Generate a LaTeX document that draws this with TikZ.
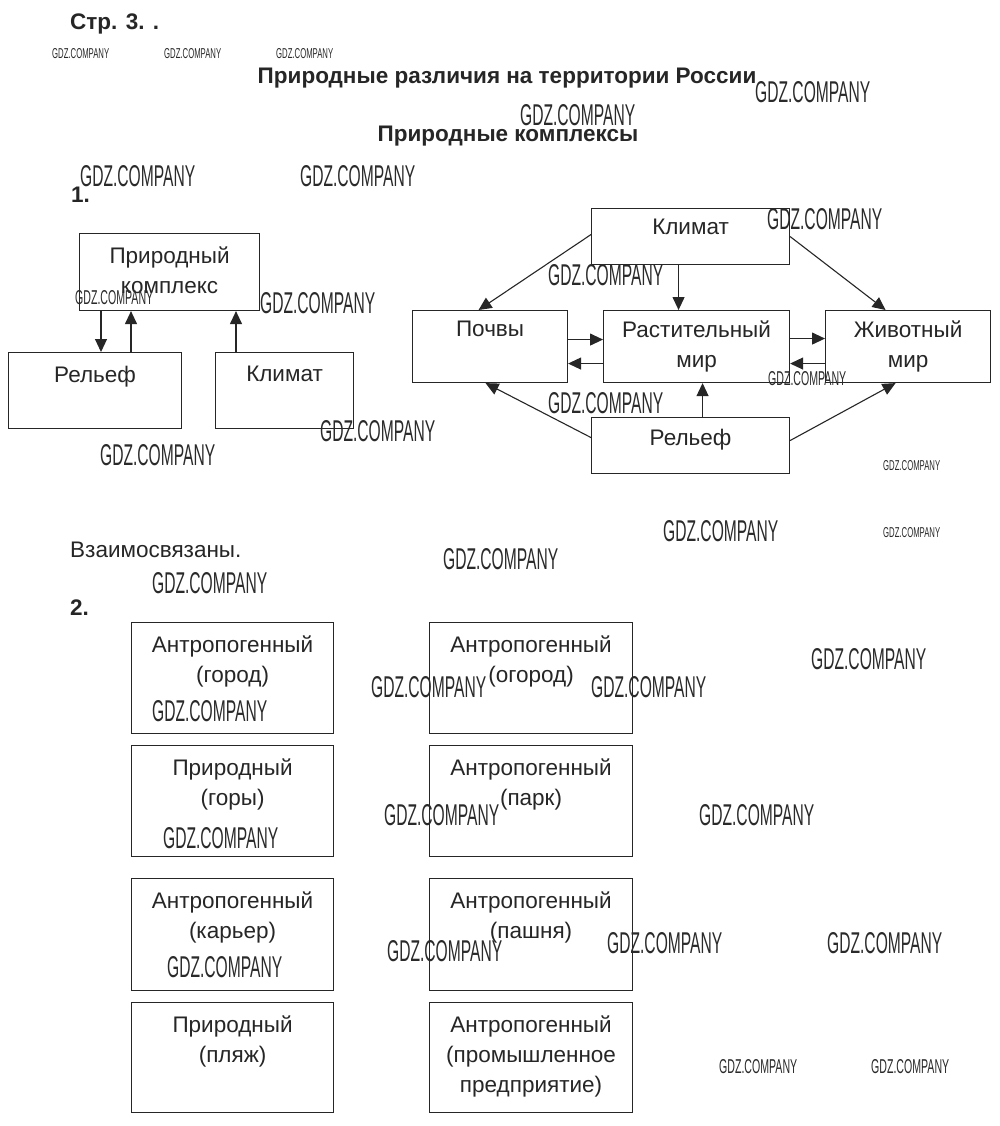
\documentclass[tikz,border=0pt]{standalone}
\usepackage{fontspec}
\setmainfont{Liberation Sans}
\usepackage{graphicx}
\usetikzlibrary{arrows.meta,calc}
\definecolor{ink}{HTML}{262626}
\definecolor{wmc}{HTML}{2A2A2A}
\tikzset{
  bx/.style={draw=ink, line width=1.1pt, inner sep=0pt, anchor=north west},
  bt/.style={text=ink, inner sep=0pt, anchor=north, align=center, font=\fontsize{22.5}{30}\selectfont},
  arr/.style={draw=ink, line width=1.1pt, -{Triangle[length=13pt,width=12pt]}},
  head/.style={text=ink, inner sep=0pt, anchor=base, font=\bfseries\fontsize{22.5}{26}\selectfont},
  plain/.style={text=ink, inner sep=0pt, anchor=base west, font=\fontsize{22.5}{26}\selectfont},
  wm/.style={text=wmc, inner sep=0pt, anchor=west}
}
% name, x, y, width, height, text offset, text
\newcommand{\mkbox}[7]{%
  \node[bx, minimum width=#4pt, minimum height=#5pt] (#1) at (#2,#3) {};
  \node[bt] (#1t) at ([yshift=-#6pt]#1.north) {#7};}
\newcommand{\gdzB}{\resizebox{115pt}{21pt}{GDZ.COMPANY}}
\newcommand{\gdzM}{\resizebox{78pt}{14pt}{GDZ.COMPANY}}
\newcommand{\gdzS}{\resizebox{57pt}{10pt}{GDZ.COMPANY}}
\begin{document}
\begin{tikzpicture}[x=1pt,y=-1pt]
\useasboundingbox (0,0) rectangle (1000,1126);
\fill[white] (0,0) rectangle (1000,1126);

% headings
\node[head, anchor=base west] (page) at (70,30) {Стр. 3. .};
\node[head] (title) at (507,84) {Природные различия на территории России};
\node[head] (sub) at (508,142) {Природные комплексы};
\node[head, anchor=base west] (n1) at (71,202) {1.};
\node[plain] (concl) at (70,557) {Взаимосвязаны.};
\node[head, anchor=base west] (n2) at (70,615) {2.};

% left diagram
\mkbox{pk}{79}{233}{180}{77}{14}{Природный\\комплекс}
\mkbox{rla}{8}{352}{173}{76}{14}{Рельеф}
\mkbox{kla}{215}{352}{138}{76}{14}{Климат}
\draw[arr] ([xshift=22pt]pk.south west) -- ([xshift=22pt]pk.south west |- rla.north);
\draw[arr] ([xshift=52pt]pk.south west |- rla.north) -- ([xshift=52pt]pk.south west);
\draw[arr] ([xshift=157pt]pk.south west |- kla.north) -- ([xshift=157pt]pk.south west);

% right diagram
\mkbox{kl}{591}{208}{198}{56}{11}{Климат}
\mkbox{po}{412}{310}{155}{72}{11}{Почвы}
\mkbox{ra}{603}{310}{186}{72}{11}{Растительный\\мир}
\mkbox{zh}{825}{310}{165}{72}{11}{Животный\\мир}
\mkbox{rl}{591}{417}{198}{56}{12}{Рельеф}
\draw[arr] ([yshift=2pt]kl.west) -- ([xshift=-11.5pt]po.north);
\draw[arr] ([xshift=-12pt]kl.south) -- ([xshift=-12pt]kl.south |- ra.north);
\draw[arr] (kl.east) -- ([xshift=-22.5pt]zh.north);
\draw[arr] ([yshift=7pt]po.east) -- ([yshift=7pt]po.east -| ra.west);
\draw[arr] ([yshift=-17pt]ra.west) -- ([yshift=-17pt]ra.west -| po.east);
\draw[arr] ([yshift=8pt]ra.east) -- ([yshift=8pt]ra.east -| zh.west);
\draw[arr] ([yshift=-17pt]zh.west) -- ([yshift=-17pt]zh.west -| ra.east);
\draw[arr] ([yshift=8pt]rl.west) -- ([xshift=-4.5pt]po.south);
\draw[arr] ([xshift=12pt]rl.north) -- ([xshift=12pt]rl.north |- ra.south);
\draw[arr] ([yshift=5pt]rl.east) -- ([xshift=-12.5pt]zh.south);

% task 2 boxes
\mkbox{b1}{131}{622}{202}{111}{14}{Антропогенный\\(город)}
\mkbox{b2}{429}{622}{203}{111}{14}{Антропогенный\\(огород)}
\mkbox{b3}{131}{745}{202}{111}{14}{Природный\\(горы)}
\mkbox{b4}{429}{745}{203}{111}{14}{Антропогенный\\(парк)}
\mkbox{b5}{131}{878}{202}{112}{14}{Антропогенный\\(карьер)}
\mkbox{b6}{429}{878}{203}{112}{14}{Антропогенный\\(пашня)}
\mkbox{b7}{131}{1002}{202}{110}{14}{Природный\\(пляж)}
\mkbox{b8}{429}{1002}{203}{110}{14}{Антропогенный\\(промышленное\\предприятие)}

% watermarks
\node[wm] (w1) at (52,54) {\gdzS};
\node[wm] (w2) at (164,54) {\gdzS};
\node[wm] (w3) at (276,54) {\gdzS};
\node[wm] (w4) at (755,92) {\gdzB};
\node[wm] (w5) at (520,115) {\gdzB};
\node[wm] (w6) at (80,176) {\gdzB};
\node[wm] (w7) at (300,176) {\gdzB};
\node[wm] (w8) at (767,219) {\gdzB};
\node[wm] (w9) at (548,275) {\gdzB};
\node[wm] (w10) at (260,303) {\gdzB};
\node[wm] (w11) at (75,298) {\gdzM};
\node[wm] (w12) at (320,431) {\gdzB};
\node[wm] (w13) at (100,455) {\gdzB};
\node[wm] (w14) at (548,403) {\gdzB};
\node[wm] (w15) at (768,379) {\gdzM};
\node[wm] (w16) at (883,466) {\gdzS};
\node[wm] (w17) at (663,531) {\gdzB};
\node[wm] (w18) at (883,533) {\gdzS};
\node[wm] (w19) at (443,559) {\gdzB};
\node[wm] (w20) at (152,583) {\gdzB};
\node[wm] (w21) at (811,659) {\gdzB};
\node[wm] (w22) at (371,687) {\gdzB};
\node[wm] (w23) at (591,687) {\gdzB};
\node[wm] (w24) at (152,711) {\gdzB};
\node[wm] (w25) at (384,815) {\gdzB};
\node[wm] (w26) at (699,815) {\gdzB};
\node[wm] (w27) at (163,838) {\gdzB};
\node[wm] (w28) at (607,943) {\gdzB};
\node[wm] (w29) at (827,943) {\gdzB};
\node[wm] (w30) at (387,951) {\gdzB};
\node[wm] (w31) at (167,967) {\gdzB};
\node[wm] (w32) at (719,1067) {\gdzM};
\node[wm] (w33) at (871,1067) {\gdzM};
\end{tikzpicture}
\end{document}
